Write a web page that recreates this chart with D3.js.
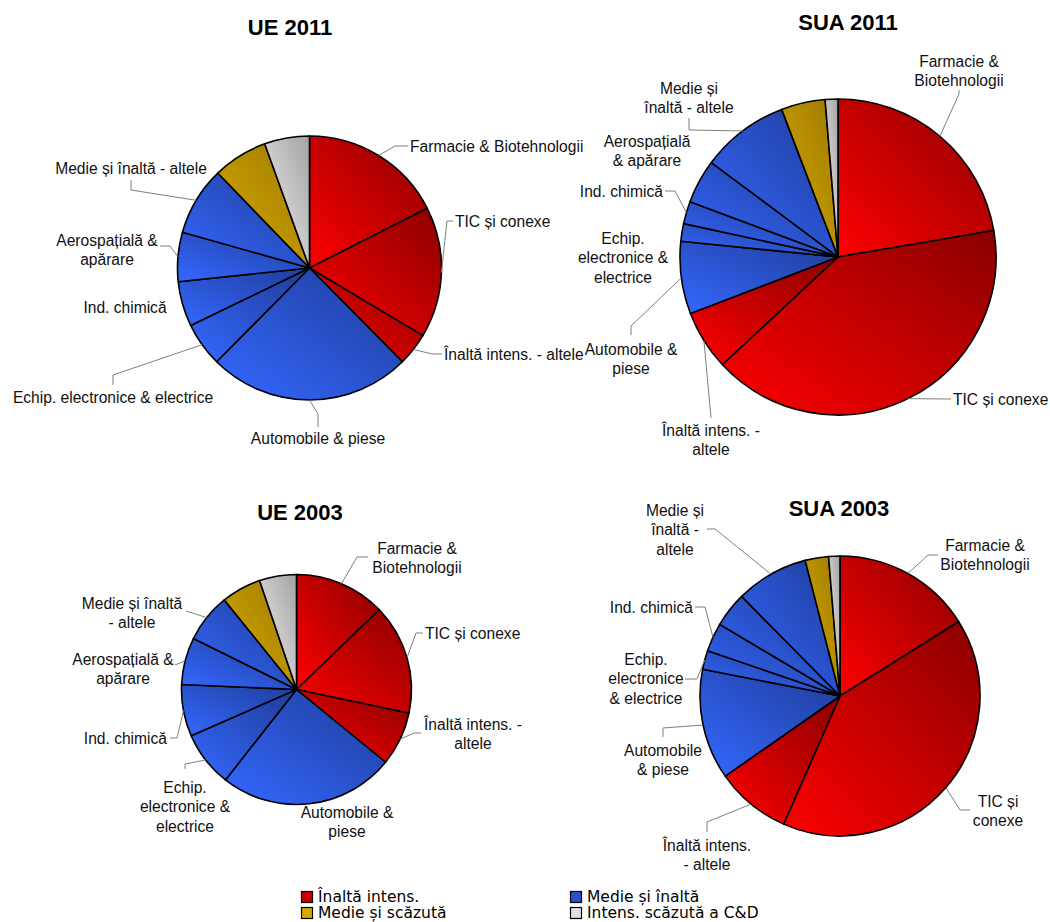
<!DOCTYPE html>
<html><head><meta charset="utf-8">
<script src="https://cdn.jsdelivr.net/npm/d3@7"></script>
<style>body{margin:0;background:#fff}svg{display:block}</style>
</head><body><svg id="c" width="1050" height="922"></svg>
<script>
// ---- data ----
const sectors = ["Farmacie & Biotehnologii","TIC și conexe","Înaltă intens. - altele","Automobile & piese",
  "Echip. electronice & electrice","Ind. chimică","Aerospațială & apărare","Medie și înaltă - altele",
  "Medie și scăzută","Intens. scăzută a C&D"];
const sectorGroup = [0,0,0,1,1,1,1,1,2,3];
const groupNames = ["Înaltă intens.","Medie și înaltă","Medie și scăzută","Intens. scăzută a C&D"];
const valuesUE2011  = [17.5, 16.0, 4.0, 24.8, 5.4, 5.5, 6.0, 8.4, 6.7, 5.5];
const valuesSUA2011 = [22.3, 40.75, 6.1, 7.4, 1.8, 2.3, 4.5, 9.0, 4.5, 1.3];
const valuesUE2003  = [12.8, 15.5, 7.6, 24.7, 7.8, 7.3, 6.6, 6.9, 5.6, 5.2];
const valuesSUA2003 = [16.1, 40.5, 8.7, 12.75, 2.2, 3.3, 4.05, 8.4, 2.7, 1.3];
const chartTitles = ["UE 2011","SUA 2011","UE 2003","SUA 2003"];

// ---- layout / style ----
const gradColors = [["#ff0000","#8a0000"],["#3468ff","#1f3c98"],["#d8ac00","#9c7800"],["#f4f4f4","#a2a2a2"]];
const legendColors = ["#cc0000","#2a52d0","#d4a800","#e0e0e0"];

const layout = [
 {cx:309.5, cy:268, r:132, tx:290, ty:35, labels:[
   {i:0, lines:["Farmacie & Biotehnologii"], x:410, y:146, a:"start", lead:[[408,146],[395,146]]},
   {i:1, lines:["TIC și conexe"], x:455, y:221, a:"start", lead:[[453,221],[447,221]]},
   {i:2, lines:["Înaltă intens. - altele"], x:444, y:354, a:"start", lead:[[442,354],[432,354]]},
   {i:3, lines:["Automobile & piese"], x:318, y:438, a:"middle", lead:[[318,427],[318,414]]},
   {i:4, lines:["Echip. electronice & electrice"], x:113, y:397, a:"middle", lead:[[113,385],[113,375]]},
   {i:5, lines:["Ind. chimică"], x:125, y:307, a:"middle", lead:null},
   {i:6, lines:["Aerospațială &","apărare"], x:107, y:240, a:"middle", lead:[[160,246],[170,246]]},
   {i:7, lines:["Medie și înaltă - altele"], x:131, y:168, a:"middle", lead:[[131,180],[131,190]]}
 ]},
 {cx:838, cy:257, r:158, tx:848, ty:30, labels:[
   {i:0, lines:["Farmacie &","Biotehnologii"], x:959, y:61, a:"middle", lead:[[959,90],[959,94]]},
   {i:1, lines:["TIC și conexe"], x:953, y:399, a:"start", lead:[[951,399]]},
   {i:2, lines:["Înaltă intens. -","altele"], x:711, y:430, a:"middle", lead:[[711,418]]},
   {i:3, lines:["Automobile  &","piese"], x:631, y:349, a:"middle", lead:[[631,335],[631,326]]},
   {i:4, lines:["Echip.","electronice &","electrice"], x:623, y:238, a:"middle", lead:null},
   {i:5, lines:["Ind. chimică"], x:663, y:191, a:"end", lead:[[665,191],[675,191]]},
   {i:6, lines:["Aerospațială","& apărare"], x:647, y:141, a:"middle", lead:null},
   {i:7, lines:["Medie și","înaltă - altele"], x:689, y:88, a:"middle", lead:[[689,118],[689,130]]}
 ]},
 {cx:296.5, cy:689.5, r:115, tx:300, ty:520, labels:[
   {i:0, lines:["Farmacie &","Biotehnologii"], x:417, y:548, a:"middle", lead:[[368,557],[357,557]]},
   {i:1, lines:["TIC și conexe"], x:425, y:633, a:"start", lead:[[423,633],[416,633]]},
   {i:2, lines:["Înaltă intens. -","altele"], x:473, y:724, a:"middle", lead:[[421,733],[414,733]]},
   {i:3, lines:["Automobile &","piese"], x:347, y:812, a:"middle", lead:null},
   {i:4, lines:["Echip.","electronice &","electrice"], x:185, y:787, a:"middle", lead:[[185,769],[185,764]]},
   {i:5, lines:["Ind. chimică"], x:167, y:738, a:"end", lead:[[170,738],[177,738]]},
   {i:6, lines:["Aerospațială &","apărare"], x:123, y:659, a:"middle", lead:[[175,665]]},
   {i:7, lines:["Medie și înaltă","- altele"], x:132, y:603, a:"middle", lead:[[186,611]]}
 ]},
 {cx:840, cy:696, r:140, tx:839, ty:516, labels:[
   {i:0, lines:["Farmacie &","Biotehnologii"], x:985, y:545, a:"middle", lead:[[938,555],[928,555]]},
   {i:1, lines:["TIC și","conexe"], x:998, y:801, a:"middle", lead:[[970,810],[960,810]]},
   {i:2, lines:["Înaltă intens.","- altele"], x:707, y:845, a:"middle", lead:[[707,832],[707,822]]},
   {i:3, lines:["Automobile","& piese"], x:663, y:750, a:"middle", lead:[[663,737],[663,728]]},
   {i:4, lines:["Echip.","electronice","& electrice"], x:646, y:659, a:"middle", lead:[[685,679],[697,679]]},
   {i:5, lines:["Ind. chimică"], x:693, y:607, a:"end", lead:[[695,607],[705,607]]},
   {i:7, lines:["Medie și","înaltă -","altele"], x:675, y:510, a:"middle", lead:[[707,529],[715,529]]}
 ]}
];
const allValues = [valuesUE2011, valuesSUA2011, valuesUE2003, valuesSUA2003];

const svg = d3.select("#c");
const defs = svg.append("defs");
gradColors.forEach((c,k)=>{
  const g = defs.append("linearGradient").attr("id","g"+k)
    .attr("x1",0).attr("y1",1).attr("x2",1).attr("y2",0);
  g.append("stop").attr("offset","0%").attr("stop-color",c[0]);
  g.append("stop").attr("offset","100%").attr("stop-color",c[1]);
});

const pie = d3.pie().sort(null).value(d=>d);
const labelFont = "'Liberation Sans', Arial, sans-serif";

layout.forEach((L,ci)=>{
  const vals = allValues[ci];
  const arcs = pie(vals);
  const arc = d3.arc().innerRadius(0).outerRadius(L.r);
  const g = svg.append("g");
  g.append("text").attr("x",L.tx).attr("y",L.ty).attr("text-anchor","middle")
    .attr("font-family",labelFont).attr("font-weight","bold").attr("font-size",22).text(chartTitles[ci]);
  const pg = g.append("g").attr("transform",`translate(${L.cx},${L.cy})`);
  pg.selectAll("path").data(arcs).join("path")
    .attr("d",arc)
    .attr("fill",d=>`url(#g${sectorGroup[d.index]})`)
    .attr("stroke","#000").attr("stroke-width",1.6).attr("stroke-linejoin","round");
  L.labels.forEach(lb=>{
    const a = arcs[lb.i];
    const mid = (a.startAngle+a.endAngle)/2;
    const px = L.cx + L.r*Math.sin(mid), py = L.cy - L.r*Math.cos(mid);
    if(lb.lead){
      const pts = lb.lead.concat([[px,py]]);
      g.append("path").attr("d",d3.line()(pts)).attr("fill","none")
        .attr("stroke","#7f7f7f").attr("stroke-width",1);
    }
    const t = g.append("text").attr("font-family",labelFont).attr("font-size",15.6)
      .attr("fill","#111").attr("text-anchor",lb.a);
    lb.lines.forEach((ln,k)=>{
      t.append("tspan").attr("x",lb.x).attr("y",lb.y+5.5+k*19.5).text(ln);
    });
  });
});

// legend
const legendPos = [[301,891],[570,891],[301,907],[570,907]];
const lg = svg.append("g");
groupNames.forEach((name,k)=>{
  const [x,y] = legendPos[k];
  lg.append("rect").attr("x",x+0.5).attr("y",y+0.5).attr("width",11).attr("height",11)
    .attr("fill",legendColors[k]).attr("stroke","#000").attr("stroke-width",1.2);
  lg.append("text").attr("x",x+17).attr("y",y+11).attr("font-family","'DejaVu Sans', Verdana, sans-serif")
    .attr("font-size",15.5).attr("fill","#000").text(name);
});
</script></body></html>
